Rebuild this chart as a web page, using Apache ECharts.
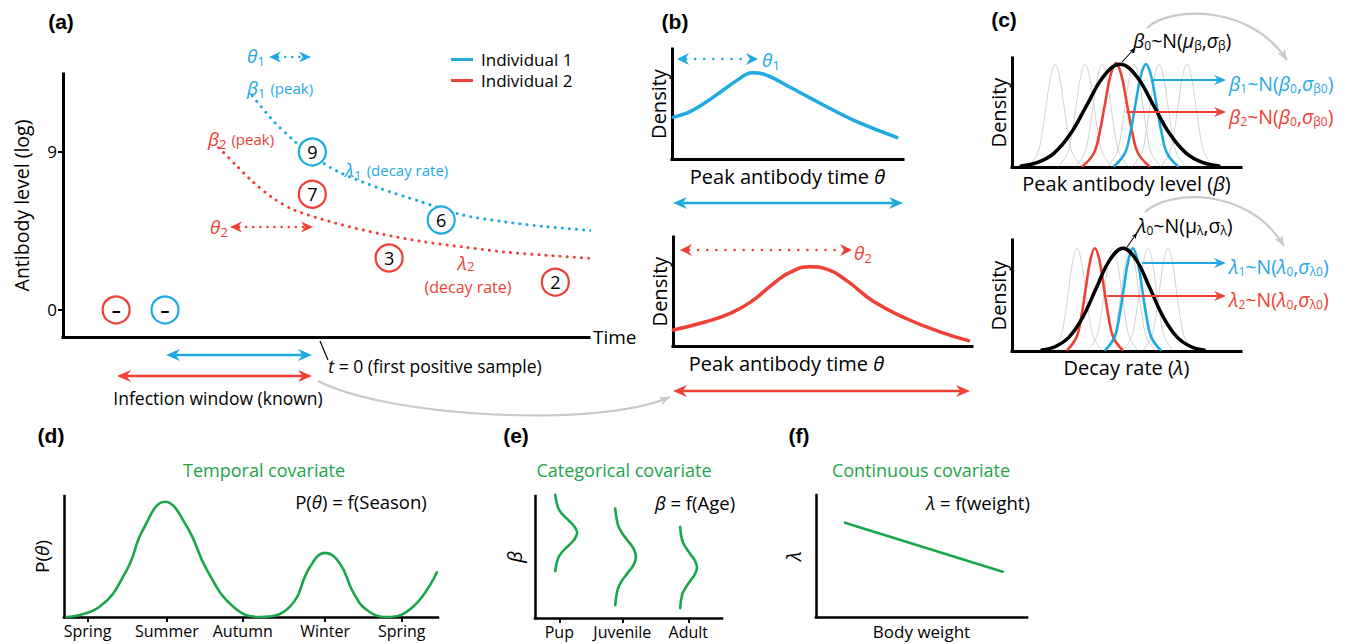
<!DOCTYPE html>
<html>
<head>
<meta charset="utf-8">
<script src="https://cdn.jsdelivr.net/npm/echarts@6.0.0/dist/echarts.min.js"></script>
<style>html,body{margin:0;padding:0;background:#fff;}#chart{width:1348px;height:644px;}</style>
</head>
<body>
<div id="chart"></div>
<script>
// ================= DATA =================
// (a) antibody trajectories: [time, log antibody level]
const ind1Decay = [[36.0,12.2],[40.0,10.76],[44.0,9.62],[47.2,8.85],[52.0,7.92],[60.0,6.95],[68.0,6.17],[76.0,5.41],[84.0,5.02],[92.0,4.74],[101.6,4.50]];
const ind2Decay = [[29.6,9.24],[32.8,8.28],[36.0,7.32],[40.0,6.36],[44.0,5.69],[52.0,4.93],[60.0,4.36],[68.0,3.91],[76.0,3.59],[84.0,3.30],[92.0,3.11],[101.6,2.92]];
const ind1Samples = [[19.4,0,'–'],[47.4,9,'9'],[71.9,5.12,'6']];
const ind2Samples = [[10.1,0,'–'],[47.4,6.59,'7'],[62.0,2.96,'3'],[93.6,1.58,'2']];
const antibodyTicks = [0, 9];

// (b) densities of peak antibody time
const theta1Density = [[0.6,0.379],[7.8,0.43],[15.0,0.521],[22.2,0.627],[29.4,0.733],[34.5,0.785],[39.5,0.773],[51.1,0.652],[65.5,0.491],[80.0,0.339],[97.3,0.197]];
const theta2Density = [[0.1,0.147],[11.3,0.225],[19.1,0.30],[25.8,0.40],[33.5,0.57],[39.1,0.675],[45.8,0.728],[51.4,0.705],[58.1,0.60],[67.0,0.41],[78.2,0.25],[89.3,0.13],[98.8,0.049]];

// (c) bell-shaped densities: x positions of the sample points and their heights
const bellHeights = [0.01,0.135,0.325,0.607,0.882,1,0.882,0.607,0.325,0.135,0.01];
const wideBellHeights = [0.01,0.044,0.135,0.325,0.607,0.882,1,0.882,0.607,0.325,0.135,0.044,0.01];
const betaPopXs = [4.0,11.2,18.4,25.6,32.8,40.0,47.2,54.4,61.6,68.8,76.0,83.2,90.4];
const beta1Xs = [44.7,49.3,51.6,53.9,56.2,58.5,60.8,63.1,65.4,67.7,72.3];
const beta2Xs = [31.0,35.8,38.2,40.6,43.0,45.4,47.8,50.2,52.6,55.0,59.8];
const betaOtherXs = [
  [7.4,11.2,13.1,15.0,16.9,18.8,20.7,22.6,24.5,26.4,30.2],
  [20.5,24.3,26.2,28.1,30.0,31.9,33.8,35.7,37.6,39.5,43.3],
  [27.9,31.7,33.6,35.5,37.4,39.3,41.2,43.1,45.0,46.9,50.7],
  [41.9,45.7,47.6,49.5,51.4,53.3,55.2,57.1,59.0,60.9,64.7],
  [52.8,56.6,58.5,60.4,62.3,64.2,66.1,68.0,69.9,71.8,75.6],
  [65.0,68.8,70.7,72.6,74.5,76.4,78.3,80.2,82.1,84.0,87.8]
];
const lambdaPopXs = [13.1,19.0,24.9,30.8,36.7,42.6,48.5,54.4,60.3,66.2,72.1,78.0,83.9];
const lambda1Xs = [40.8,44.8,46.8,48.8,50.8,52.8,54.8,56.8,58.8,60.8,64.8];
const lambda2Xs = [24.2,28.2,30.2,32.2,34.2,36.2,38.2,40.2,42.2,44.2,48.2];
const lambdaOtherXs = [
  [17.6,21.2,23.0,24.8,26.6,28.4,30.2,32.0,33.8,35.6,39.2],
  [33.3,36.9,38.7,40.5,42.3,44.1,45.9,47.7,49.5,51.3,54.9],
  [40.7,44.3,46.1,47.9,49.7,51.5,53.3,55.1,56.9,58.7,62.3],
  [48.6,52.2,54.0,55.8,57.6,59.4,61.2,63.0,64.8,66.6,70.2],
  [57.3,60.9,62.7,64.5,66.3,68.1,69.9,71.7,73.5,75.3,78.9]
];

// (d) temporal covariate
const seasons = ['Spring','Summer','Autumn','Winter','Spring'];
const seasonTickXs = [6.3,27.5,47.8,69.8,90.3];
const seasonalCurve = [[0.7,0],[9.6,0.086],[16.8,0.39],[21.1,0.72],[27.0,0.953],[32.8,0.75],[38.2,0.39],[45.2,0.086],[52.4,0],[60.4,0.086],[65.8,0.415],[69.8,0.53],[73.8,0.44],[77.4,0.2],[80.9,0.06],[86.3,0],[93.4,0.086],[99.7,0.37]];

// (e) categorical covariate (sideways densities)
const ageGroups = ['Pup','Juvenile','Adult'];
const ageTickXs = [13.0,46.7,82.0];
const pupCurve = [[10.8,1.009],[12.3,0.905],[14.5,0.853],[17.9,0.801],[21.1,0.749],[22.5,0.697],[21.1,0.645],[17.9,0.593],[14.5,0.541],[12.3,0.489],[10.8,0.385]];
const juvenileCurve = [[42.9,0.898],[44.3,0.766],[46.4,0.700],[49.6,0.634],[52.7,0.568],[54.0,0.502],[52.7,0.436],[49.6,0.370],[46.4,0.304],[44.3,0.238],[42.9,0.106]];
const adultCurve = [[77.6,0.747],[78.7,0.636],[80.5,0.581],[83.0,0.525],[85.5,0.470],[86.6,0.414],[85.5,0.359],[83.0,0.303],[80.5,0.248],[78.7,0.192],[77.6,0.081]];

// (f) continuous covariate
const weightLine = [[13.7,0.773],[88.5,0.371]];

// ================= STYLE / LAYOUT =================
const BLUE = '#1fa9e1', RED = '#ee4035', GREEN = '#1aa64b', GRAY = '#d2d2d2', ARC = '#c9c9c9';
const FONT = 'Open Sans';
const pair = (xs, hs) => xs.map((x, i) => [x, hs[i]]);

const grids = [
  {left:63, top:74, width:526, height:263},   // a
  {left:672, top:49, width:231, height:110},  // b top
  {left:673, top:237, width:299, height:109}, // b bottom
  {left:1012, top:58, width:229, height:109}, // c top
  {left:1012, top:240, width:229, height:111},// c bottom
  {left:64, top:496, width:374, height:121},  // d
  {left:535, top:496, width:187, height:122}, // e
  {left:816, top:495, width:211, height:122}  // f
];

const italicRich = (size) => ({i:{fontStyle:'italic', fontSize:size, fontFamily:FONT, color:'#000'}});

function axis(gi, min, max, extra) {
  return Object.assign({
    type:'value', gridIndex:gi, min, max,
    axisLine:{show:true, onZero:false, lineStyle:{color:'#000', width:3, cap:'square'}},
    axisTick:{show:false}, axisLabel:{show:false}, splitLine:{show:false}
  }, extra || {});
}
function nameStyle(size, extra) {
  return Object.assign({fontSize:size, fontFamily:FONT, color:'#000', rich:italicRich(size)}, extra || {});
}
const thinLine = {show:true, onZero:false, lineStyle:{color:'#000', width:2.5, cap:'square'}};

const xAxes = [
  axis(0, 0, 100, {name:'Time', nameLocation:'end', nameGap:4, nameTextStyle:nameStyle(19)}),
  axis(1, 0, 100, {name:'Peak antibody time {i|θ}', nameLocation:'middle', nameGap:7, nameTextStyle:nameStyle(20)}),
  axis(2, 0, 100, {name:'Peak antibody time {i|θ}', nameLocation:'middle', nameGap:7, nameTextStyle:nameStyle(20, {padding:[0,72,0,0]})}),
  axis(3, 0, 100, {name:'Peak antibody level ({i|β})', nameLocation:'middle', nameGap:6, nameTextStyle:nameStyle(20)}),
  axis(4, 0, 100, {name:'Decay rate ({i|λ})', nameLocation:'middle', nameGap:6, nameTextStyle:nameStyle(20)}),
  axis(5, 0, 100, {axisLine:thinLine,
    axisTick:{show:true, customValues:seasonTickXs, length:5, lineStyle:{color:'#000', width:2}},
    axisLabel:{show:true, customValues:seasonTickXs, margin:6, fontSize:16, fontFamily:FONT, color:'#000',
      formatter:(v) => seasons[seasonTickXs.indexOf(v)]}}),
  axis(6, 0, 100, {axisLine:thinLine,
    axisTick:{show:true, customValues:ageTickXs, length:5, lineStyle:{color:'#000', width:2}},
    axisLabel:{show:true, customValues:ageTickXs, margin:6, fontSize:16, fontFamily:FONT, color:'#000',
      formatter:(v) => ageGroups[ageTickXs.indexOf(v)]}}),
  axis(7, 0, 100, {axisLine:thinLine,
    name:'Body weight', nameLocation:'middle', nameGap:6, nameTextStyle:nameStyle(17)})
];
const yAxes = [
  axis(0, -1.54, 13.44, {name:'Antibody level (log)', nameLocation:'middle', nameGap:32, nameTextStyle:nameStyle(19.5),
    axisTick:{show:true, customValues:antibodyTicks, length:5, lineStyle:{color:'#000', width:2}},
    axisLabel:{show:true, customValues:antibodyTicks, margin:6, fontSize:17, fontFamily:FONT, color:'#000'}}),
  axis(1, 0, 1, {name:'Density', nameLocation:'middle', nameGap:4, nameTextStyle:nameStyle(20)}),
  axis(2, 0, 1, {name:'Density', nameLocation:'middle', nameGap:4, nameTextStyle:nameStyle(20)}),
  axis(3, 0, 1.06, {name:'Density', nameLocation:'middle', nameGap:4, nameTextStyle:nameStyle(20)}),
  axis(4, 0, 1.08, {name:'Density', nameLocation:'middle', nameGap:4, nameTextStyle:nameStyle(20)}),
  axis(5, 0, 1, {name:'P({i|θ})', nameLocation:'middle', nameGap:13, nameTextStyle:nameStyle(19), axisLine:thinLine}),
  axis(6, 0, 1, {name:'{i|β}', nameLocation:'middle', nameGap:11, nameTextStyle:nameStyle(20), axisLine:thinLine}),
  axis(7, 0, 1, {name:'{i|λ}', nameLocation:'middle', nameGap:13, nameTextStyle:nameStyle(20), axisLine:thinLine})
];

function line(gi, data, color, width, extra) {
  return Object.assign({
    type:'line', xAxisIndex:gi, yAxisIndex:gi, data, symbol:'none', smooth:0.4,
    lineStyle:{color, width, cap:'round'}, silent:true, clip:false, z:3
  }, extra || {});
}
function samples(name, data, color) {
  return {
    type:'scatter', name, xAxisIndex:0, yAxisIndex:0, data, symbol:'circle', symbolSize:27, z:6, clip:false, silent:true,
    itemStyle:{color:'#fff', borderColor:color, borderWidth:2.2, opacity:1},
    label:{show:true, position:'inside', fontSize:18, fontFamily:FONT, color:'#000',
      formatter:(p) => p.data[2] === '–' ? '{m|–}' : p.data[2],
      rich:{m:{fontSize:18, fontWeight:'bold', fontFamily:FONT, color:'#000'}}}
  };
}

const series = [
  line(0, ind1Decay, BLUE, 3, {name:'Individual 1', smooth:0.3, lineStyle:{color:BLUE, width:3, type:[0.1,7], cap:'round'}}),
  line(0, ind2Decay, RED, 3, {name:'Individual 2', smooth:0.3, lineStyle:{color:RED, width:3, type:[0.1,7], cap:'round'}}),
  samples('Individual 1', ind1Samples, BLUE),
  samples('Individual 2', ind2Samples, RED),
  line(1, theta1Density, BLUE, 3.5),
  line(2, theta2Density, RED, 3.5, {smooth:0.5})
];
betaOtherXs.forEach(xs => series.push(line(3, pair(xs, bellHeights), GRAY, 1, {z:2})));
series.push(line(3, pair(beta2Xs, bellHeights.map(h => h * 1.01)), RED, 2.6));
series.push(line(3, pair(beta1Xs, bellHeights), BLUE, 2.6));
series.push(line(3, pair(betaPopXs, wideBellHeights), '#000', 3.5, {z:4}));
lambdaOtherXs.forEach(xs => series.push(line(4, pair(xs, bellHeights), GRAY, 1, {z:2})));
series.push(line(4, pair(lambda2Xs, bellHeights), RED, 2.6));
series.push(line(4, pair(lambda1Xs, bellHeights), BLUE, 2.6));
series.push(line(4, pair(lambdaPopXs, wideBellHeights), '#000', 3.5, {z:4}));
series.push(line(5, seasonalCurve, GREEN, 2.6, {smooth:0.45}));
series.push(line(6, pupCurve, GREEN, 2.6));
series.push(line(6, juvenileCurve, GREEN, 2.6));
series.push(line(6, adultCurve, GREEN, 2.6));
series.push(line(7, weightLine, GREEN, 2.6, {smooth:false}));

// ================= ANNOTATIONS =================
function richFor(color, size) {
  const sub = Math.round(size * 0.62);
  const base = {fontFamily:FONT, fill:color, color};
  return {
    n:Object.assign({fontSize:size, lineHeight:size + 4}, base),
    i:Object.assign({fontSize:size, fontStyle:'italic', lineHeight:size + 4}, base),
    s:Object.assign({fontSize:sub, lineHeight:sub + 1, verticalAlign:'bottom'}, base),
    b:Object.assign({fontSize:sub + 1, lineHeight:sub + 5, verticalAlign:'bottom'}, base),
    p:Object.assign({fontSize:Math.round(size * 0.8), lineHeight:size + 4}, base),
    t:Object.assign({fontSize:size, fontStyle:'italic', lineHeight:size}, base),
    u:Object.assign({fontSize:sub + 1, lineHeight:sub + 2, verticalAlign:'bottom'}, base)
  };
}
function text(x, y, str, color, size, align, extra) {
  return {type:'text', x, y, silent:true, z:20,
    style:Object.assign({text:str, fill:color, fontSize:size, fontFamily:FONT, align:align || 'center',
      verticalAlign:'middle', rich:richFor(color, size)}, extra || {})};
}
function head(x, y, ang, color, L, W) {
  const c = Math.cos(ang), s = Math.sin(ang);
  const bx = x - L * c, by = y - L * s, nx = -s, ny = c;
  return {type:'polygon', silent:true, z:20, shape:{points:[[x, y], [bx + W * nx, by + W * ny],
    [x - 0.68 * L * c, y - 0.68 * L * s], [bx - W * nx, by - W * ny]]}, style:{fill:color}};
}
function hArrow(x1, x2, y, color, opt) {
  const o = Object.assign({L:13, W:5.5, width:2.5, dash:null, left:true, right:true}, opt || {});
  const st = {stroke:color, lineWidth:o.width, lineCap:'round'};
  if (o.dash) st.lineDash = o.dash;
  const out = [{type:'line', silent:true, z:19,
    shape:{x1:x1 + (o.left ? o.L * 0.75 : 0), y1:y, x2:x2 - (o.right ? o.L * 0.75 : 0), y2:y}, style:st}];
  if (o.left) out.push(head(x1, y, Math.PI, color, o.L, o.W));
  if (o.right) out.push(head(x2, y, 0, color, o.L, o.W));
  return out;
}
function arc(p0, c1, c2, p3, color, width, L, W) {
  return [
    {type:'bezierCurve', silent:true, z:1, shape:{x1:p0[0], y1:p0[1], cpx1:c1[0], cpy1:c1[1], cpx2:c2[0], cpy2:c2[1], x2:p3[0], y2:p3[1]},
      style:{stroke:color, lineWidth:width, fill:null}},
    head(p3[0], p3[1], Math.atan2(p3[1] - c2[1], p3[0] - c2[0]), color, L, W)
  ];
}
function pointer(x1, y1, x2, y2) {
  return [
    {type:'line', silent:true, z:20, shape:{x1, y1, x2, y2}, style:{stroke:'#000', lineWidth:1.1}},
    head(x2, y2, Math.atan2(y2 - y1, x2 - x1), '#000', 6, 2.6)
  ];
}
function panelLabel(x, y, str) {
  return {type:'text', x, y, silent:true, z:20, style:{text:str, fill:'#000', fontSize:21, fontWeight:'bold',
    fontFamily:'Liberation Sans', align:'center', verticalAlign:'middle'}};
}
const dots = [0.1, 7];

const graphics = [
  panelLabel(61, 21, '(a)'), panelLabel(675, 21, '(b)'), panelLabel(1004, 19, '(c)'),
  panelLabel(51, 435, '(d)'), panelLabel(516, 435, '(e)'), panelLabel(799, 435, '(f)'),
  // (a)
  text(256, 56, '{i|θ}{b|1}', BLUE, 19),
  ...hArrow(269, 311, 57, BLUE, {dash:dots, L:12, W:5.5}),
  text(247, 88, '{i|β}{b|1} {p|(peak)}', BLUE, 19, 'left'),
  text(208, 139, '{i|β}{b|2} {p|(peak)}', RED, 19, 'left'),
  text(345, 170, '{i|λ}{b|1} {p|(decay rate)}', BLUE, 19, 'left'),
  text(219, 227, '{i|θ}{b|2}', RED, 19),
  ...hArrow(230, 313, 227, RED, {dash:dots, L:12, W:5.5}),
  text(466, 263, '{t|λ}{u|2}', RED, 19),
  text(468, 287, '(decay rate)', RED, 16),
  {type:'line', silent:true, shape:{x1:320, y1:341, x2:328, y2:360}, style:{stroke:'#000', lineWidth:1.2}},
  text(435, 366, '{i|t}{n| = 0 (first positive sample)}', '#000', 17.5),
  ...hArrow(166, 312, 355, BLUE, {L:14, W:6}),
  ...hArrow(117, 312, 376, RED, {L:14, W:6}),
  text(218, 398, 'Infection window (known)', '#000', 17.5),
  ...arc([318, 381], [390, 418], [600, 428], [670, 397], ARC, 2.2, 11, 4.5),
  // (b)
  ...hArrow(677, 758, 59, BLUE, {dash:[0.1, 9], L:12, W:6}),
  text(771, 60, '{i|θ}{b|1}', BLUE, 19),
  ...hArrow(673, 903, 203, BLUE, {L:14, W:6}),
  ...hArrow(680, 852, 250, RED, {dash:[0.1, 9], L:12, W:6}),
  text(863, 253, '{i|θ}{b|2}', RED, 19),
  ...hArrow(673, 970, 391, RED, {L:14, W:6}),
  // (c) top
  ...arc([1147, 28], [1170, 6], [1250, 4], [1287, 60], ARC, 2.2, 11, 4.5),
  ...pointer(1122, 62, 1135, 48),
  text(1133, 40, '{i|β}{s|0}{n|~N(}{i|μ}{s|β}{n|,}{i|σ}{s|β}{n|)}', '#000', 19.5, 'left'),
  ...hArrow(1153, 1226, 80, BLUE, {L:12, W:5, width:2, left:false}),
  text(1229, 83, '{i|β}{s|1}{n|~N(}{i|β}{s|0}{n|,}{i|σ}{s|β0}{n|)}', BLUE, 19.5, 'left'),
  ...hArrow(1127, 1226, 112, RED, {L:12, W:5, width:2, left:false}),
  text(1229, 116, '{i|β}{s|2}{n|~N(}{i|β}{s|0}{n|,}{i|σ}{s|β0}{n|)}', RED, 19.5, 'left'),
  // (c) bottom
  ...arc([1145, 212], [1168, 190], [1248, 186], [1284, 246], ARC, 2.2, 11, 4.5),
  ...pointer(1127, 247, 1137, 233),
  text(1137, 225, '{i|λ}{s|0}{n|~N(μ}{s|λ}{n|,σ}{s|λ}{n|)}', '#000', 19.5, 'left'),
  ...hArrow(1143, 1226, 263, BLUE, {L:12, W:5, width:2, left:false}),
  text(1229, 266, '{i|λ}{s|1}{n|~N(}{i|λ}{s|0}{n|,}{i|σ}{s|λ0}{n|)}', BLUE, 19.5, 'left'),
  ...hArrow(1108, 1226, 296, RED, {L:12, W:5, width:2, left:false}),
  text(1229, 299, '{i|λ}{s|2}{n|~N(}{i|λ}{s|0}{n|,}{i|σ}{s|λ0}{n|)}', RED, 19.5, 'left'),
  // (d) (e) (f)
  text(264, 470, 'Temporal covariate', GREEN, 18),
  text(361, 501, '{n|P(}{i|θ}{n|) = f(Season)}', '#000', 18.5),
  text(624, 470, 'Categorical covariate', GREEN, 18),
  text(695, 502, '{i|β}{n| = f(Age)}', '#000', 18.5),
  text(921, 470, 'Continuous covariate', GREEN, 18),
  text(978, 502, '{i|λ}{n| = f(weight)}', '#000', 18.5)
];

const chart = echarts.init(document.getElementById('chart'), null, {renderer:'svg', width:1348, height:644});
chart.setOption({
  animation:false,
  backgroundColor:'#fff',
  textStyle:{fontFamily:FONT},
  legend:{
    orient:'vertical', left:446, top:46, itemWidth:22, itemHeight:3, itemGap:4, icon:'rect', selectedMode:false,
    textStyle:{fontSize:17, fontFamily:FONT, color:'#000', padding:[0,0,0,3]},
    data:[{name:'Individual 1', itemStyle:{color:BLUE}}, {name:'Individual 2', itemStyle:{color:RED}}]
  },
  grid:grids,
  xAxis:xAxes,
  yAxis:yAxes,
  series,
  graphic:graphics
});
</script>
</body>
</html>
